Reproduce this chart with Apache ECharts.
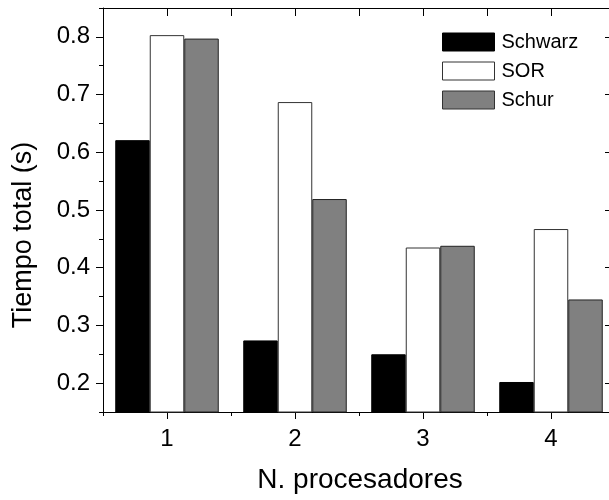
<!DOCTYPE html>
<html>
<head>
<meta charset="utf-8">
<style>
  html, body { margin: 0; padding: 0; background: #fff; overflow: hidden; }
  #chart { width: 609px; height: 500px; }
</style>
<script src="https://cdn.jsdelivr.net/npm/echarts@6/dist/echarts.min.js"></script>
</head>
<body>
<div id="chart"></div>
<script>
// Total time per number of processors, for three solvers
const categories = ['1', '2', '3', '4'];
const schwarz = [0.621, 0.274, 0.250, 0.202];
const sor     = [0.803, 0.687, 0.435, 0.467];
const schur   = [0.797, 0.519, 0.438, 0.345];
const yTickLabels = ['0.2', '0.3', '0.4', '0.5', '0.6', '0.7', '0.8'];
const yMin = 0.15;
const yMax = 0.85;
const xTitle = 'N. procesadores';
const yTitle = 'Tiempo total (s)';

const sans = '"Liberation Sans", Arial, sans-serif';
const black = '#000';

const chart = echarts.init(document.getElementById('chart'), null, { renderer: 'canvas' });

const hidden = { show: false };

const option = {
  animation: false,
  backgroundColor: '#fff',
  grid: { left: 103, top: 8, right: -6, bottom: 88, containLabel: false, outerBoundsMode: 'none' },
  legend: {
    orient: 'vertical',
    left: 442,
    top: 32,
    padding: 0,
    itemWidth: 52,
    itemHeight: 18,
    itemGap: 9,
    icon: 'rect',
    selectedMode: false,
    textStyle: { fontFamily: sans, fontSize: 20, color: black, lineHeight: 18, padding: [0, 0, 0, 2] },
    data: [
      { name: 'Schwarz', itemStyle: { color: '#000', borderColor: '#000', borderWidth: 1 } },
      { name: 'SOR', itemStyle: { color: '#fff', borderColor: '#333', borderWidth: 1 } },
      { name: 'Schur', itemStyle: { color: '#808080', borderColor: '#333', borderWidth: 1 } }
    ]
  },
  xAxis: [
    { // bottom axis with labels and major ticks
      type: 'category', data: categories, position: 'bottom',
      axisLine: { show: true, lineStyle: { color: black, width: 1 } },
      axisTick: { show: true, alignWithLabel: true, length: 7, lineStyle: { color: black } },
      axisLabel: { fontFamily: sans, fontSize: 24, color: black, margin: 15 },
      splitLine: hidden
    },
    { // bottom minor ticks between groups
      type: 'category', data: categories, position: 'bottom',
      axisLine: hidden,
      axisTick: { show: true, length: 4, lineStyle: { color: black } },
      axisLabel: hidden, splitLine: hidden
    },
    { // top frame with inward ticks at groups
      type: 'category', data: categories, position: 'top',
      axisLine: { show: true, lineStyle: { color: black, width: 1 } },
      axisTick: { show: true, inside: true, alignWithLabel: true, length: 8, lineStyle: { color: black } },
      axisLabel: hidden, splitLine: hidden
    },
    { // top inward ticks between groups
      type: 'category', data: categories, position: 'top',
      axisLine: hidden,
      axisTick: { show: true, inside: true, length: 8, lineStyle: { color: black } },
      axisLabel: hidden, splitLine: hidden
    }
  ],
  yAxis: [
    { // value scale for the bars
      type: 'value', min: yMin, max: yMax, position: 'left',
      axisLine: { show: true, lineStyle: { color: black, width: 1 } },
      axisTick: hidden, axisLabel: hidden, splitLine: hidden
    },
    { // major ticks and labels
      type: 'category', data: yTickLabels, position: 'left',
      axisLine: hidden,
      axisTick: { show: true, alignWithLabel: true, length: 7, lineStyle: { color: black } },
      axisLabel: { fontFamily: sans, fontSize: 24, color: black, margin: 13 },
      splitLine: hidden
    },
    { // minor ticks halfway between labels
      type: 'category', data: yTickLabels, position: 'left',
      axisLine: hidden,
      axisTick: { show: true, length: 4, lineStyle: { color: black } },
      axisLabel: hidden, splitLine: hidden
    },
    { // right frame with inward ticks
      type: 'category', data: yTickLabels, position: 'right',
      axisLine: { show: true, lineStyle: { color: black, width: 1 } },
      axisTick: { show: true, inside: true, alignWithLabel: true, length: 10, lineStyle: { color: black } },
      axisLabel: hidden, splitLine: hidden
    }
  ],
  series: [
    {
      name: 'Schwarz', type: 'bar', xAxisIndex: 0, yAxisIndex: 0,
      data: schwarz, barWidth: 34.5, barGap: '0%',
      itemStyle: { color: '#000', borderColor: '#000', borderWidth: 1 }
    },
    {
      name: 'SOR', type: 'bar', xAxisIndex: 0, yAxisIndex: 0,
      data: sor, barWidth: 34.5, barGap: '0%',
      itemStyle: { color: '#fff', borderColor: '#333', borderWidth: 1 }
    },
    {
      name: 'Schur', type: 'bar', xAxisIndex: 0, yAxisIndex: 0,
      data: schur, barWidth: 34.5, barGap: '0%',
      itemStyle: { color: '#808080', borderColor: '#222', borderWidth: 1 }
    }
  ],
  graphic: [
    {
      type: 'text', x: 360, y: 480,
      style: { text: xTitle, fontFamily: sans, fontSize: 28, fill: black, align: 'center', verticalAlign: 'middle' }
    },
    {
      type: 'text', x: 24, y: 235, rotation: Math.PI / 2,
      style: { text: yTitle, fontFamily: sans, fontSize: 27, fill: black, align: 'center', verticalAlign: 'middle' }
    }
  ]
};

chart.setOption(option);
</script>
</body>
</html>
